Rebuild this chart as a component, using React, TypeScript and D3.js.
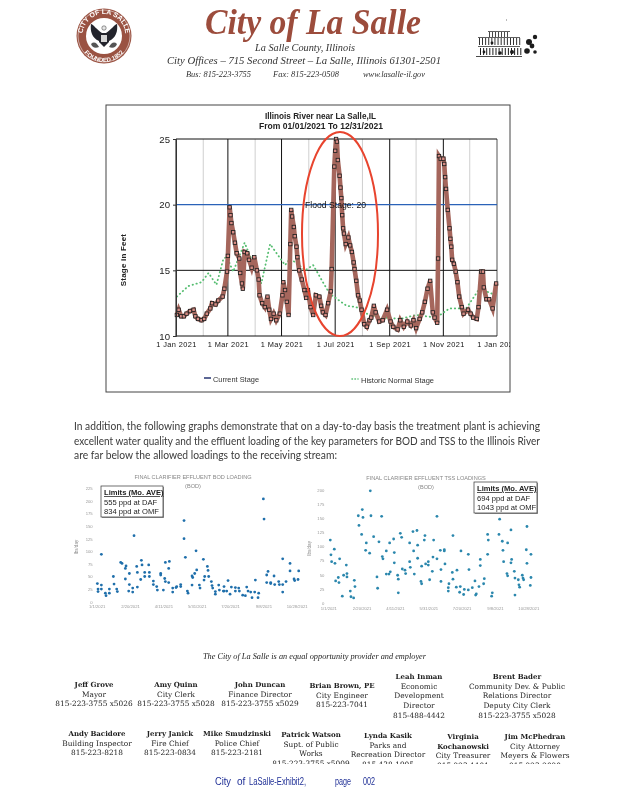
import { useEffect, useRef } from 'react';
import * as d3 from 'd3';

// river stage, day offset from 1 Jan 2021
const stageDays = [1,3,6,9,12,16,20,22,25,29,32,35,39,41,45,48,53,55,58,59,61,62,63,65,67,69,72,73,75,76,78,81,83,86,89,92,94,95,98,101,104,106,108,111,114,118,121,122,124,126,128,130,131,132,134,135,137,138,140,143,146,148,150,153,156,159,163,165,167,170,173,176,177,180,181,182,183,184,186,187,188,189,190,191,193,196,198,200,202,203,205,207,209,211,214,217,220,222,225,227,231,235,240,244,247,252,255,259,263,267,270,273,277,280,283,286,289,292,294,297,298,299,301,304,305,306,307,309,311,312,313,314,316,318,320,322,325,327,332,335,338,342,344,347,349,350,353,356,360,364];
const stageValues = [11.6,12,11.5,11.5,11.7,11.9,12,11.5,11.3,11.2,11.3,11.7,12.1,12.5,12.4,12.7,13,13.6,14.9,16.1,19.8,19.2,18.6,17.9,17.1,16.3,15.9,14.8,14,13.6,16.4,16.3,15.8,15.2,16,15,14.3,13.1,12.5,12.2,13,12,11.3,11.7,11.2,11.7,13.1,14.1,13.5,12.6,11.6,17,19.6,19.1,18.3,17.6,16.8,16,15,14.3,13.5,12.9,13.5,12.2,11.6,13.1,13,12.3,11.8,11.6,12.5,13.4,15.1,22.9,24.1,25,24.8,23.4,22.2,21.3,20.5,19.2,18.2,17.8,17,17.5,16.9,16.4,15.6,15.1,14.2,13.1,12.7,12,10.9,10.7,11.2,11.4,12.3,11.8,11.1,11.2,12,11.1,10.7,10.5,11.2,10.7,11.1,10.8,11.2,10.6,11.3,11.8,12.6,13.6,14.2,11.8,11.4,11,15.9,23.7,23.5,23.5,23.1,22.1,21.2,19.6,18.2,17.4,16.8,15.8,15.5,14.9,14.1,13,12.2,11.7,12,11.7,11.4,11.3,12.2,14.9,14.9,13.7,12.8,12.8,12.1,14];

const normalDays = [1,14,29,37,46,54,58,65,78,88,97,107,124,130,147,156,167,175,194,205,217,236,255,273,296,311,330,345,364];
const normalValues = [13,13.8,14.1,14.8,13.9,15.9,16,14.9,17.1,15.5,14,17,15.4,15.9,15,15.4,14.1,13.2,12.3,12.2,11.7,11.4,11.3,11.6,11.4,12.1,12.1,13.6,13.1];

const stageTicks = [10, 15, 20, 25];
const floodStage = 20;

// effluent loadings, day offset from the first sample
const bodDays = [7,1,2,7,2,7,13,14,19,19,25,26,30,31,36,38,43,44,43,49,49,48,54,54,56,60,61,61,67,66,68,72,72,78,79,79,85,85,90,91,96,96,100,103,102,103,108,108,109,114,114,119,120,126,126,131,131,133,136,137,143,144,143,147,150,149,154,155,160,161,162,166,167,168,172,173,174,178,178,183,184,190,191,191,195,197,200,202,208,208,213,214,219,223,225,227,231,233,237,238,242,243,250,251,255,255,257,261,261,266,267,273,274,279,279,279,284,290,290,296,297,302,303];
const bodValues = [94,36,25,33,20,25,17,12,25,17,50,35,25,20,78,76,45,71,66,34,56,21,27,19,131,70,29,58,82,44,73,58,50,73,58,50,41,34,30,23,56,53,23,78,46,40,38,66,80,27,19,28,30,34,30,161,125,88,21,17,51,48,33,56,63,101,33,27,84,43,50,70,62,50,40,32,27,20,15,33,23,21,30,21,21,42,15,29,28,21,27,21,13,12,29,21,19,8,19,43,8,17,204,164,38,53,60,36,38,51,34,40,34,34,19,85,40,76,61,45,42,44,61];

const tssDays = [3,4,5,9,10,11,15,16,17,21,23,27,28,28,33,34,38,39,40,45,46,50,51,52,57,56,62,63,64,68,73,74,76,80,81,82,87,87,91,92,93,98,99,99,104,105,105,108,110,111,115,116,122,122,123,127,128,129,133,134,134,140,139,140,145,144,146,150,150,152,156,157,158,163,163,169,169,168,174,174,175,180,180,181,186,187,187,192,193,197,198,199,203,204,210,210,211,216,220,221,222,226,228,228,233,234,239,240,239,245,246,256,257,261,262,263,268,269,269,274,274,275,279,280,280,285,286,287,291,292,293,298,298,297,304,303,304];
const tssValues = [111,85,73,95,70,39,45,36,78,12,49,67,52,46,21,11,9,40,29,154,137,121,165,151,106,93,88,198,154,117,46,26,108,153,82,78,92,51,51,106,55,113,89,71,49,18,42,123,116,60,58,52,106,73,63,126,92,51,128,102,79,65,38,34,119,111,69,73,67,41,56,81,111,153,78,38,59,93,94,92,69,27,21,34,54,119,42,28,58,19,29,92,15,24,86,23,59,27,39,14,16,29,66,77,34,43,86,111,121,12,18,121,148,109,93,73,52,48,106,129,71,77,56,14,44,41,32,28,49,44,41,135,70,94,86,31,45];

const bodTicks = [0,25,50,75,100,125,150,175,200,225];
const tssTicks = [0,25,50,75,100,125,150,175,200];
const sampleTickDays = [0,50,100,150,200,250,300];

const SERIF = '"Liberation Serif", serif';
const SANS = '"Liberation Sans", sans-serif';
const SCHOOL = '"DejaVu Serif", serif';

const start = new Date(2021, 0, 1);
const dayToDate = (d: number) => d3.timeDay.offset(start, d);

interface LoadingChart {
  title: string;
  titleX: number;
  titleY: number;
  days: number[];
  values: number[];
  ticks: number[];
  color: string;
  x0: number;
  y0: number;
  yTop: number;
  yMax: number;
  labelX: number;
  dateY: number;
}

const drawLoading = (svg: d3.Selection<SVGGElement, unknown, null, undefined>, c: LoadingChart) => {
  const x = d3.scaleTime().domain([dayToDate(0), dayToDate(300)]).range([c.x0, c.x0 + 200]);
  const y = d3.scaleLinear().domain([0, c.yMax]).range([c.y0, c.yTop]);
  const g = svg.append('g').attr('font-family', SANS);

  g.append('text').attr('x', c.titleX).attr('y', c.titleY).attr('text-anchor', 'middle')
    .attr('font-size', 5.6).attr('fill', '#888').text(c.title);
  g.append('text').attr('x', c.titleX).attr('y', c.titleY + 9).attr('text-anchor', 'middle')
    .attr('font-size', 5.6).attr('fill', '#888').text('(BOD)');

  const yAxis = g.append('g').attr('transform', `translate(${c.x0 - 3},0)`)
    .call(d3.axisLeft(y).tickValues(c.ticks).tickSize(0).tickPadding(1));
  yAxis.select('.domain').remove();
  yAxis.selectAll('text').attr('font-size', 4.2).attr('fill', '#999').attr('font-family', SANS);

  const xAxis = g.append('g').attr('transform', `translate(0,${c.dateY})`)
    .call(d3.axisBottom(x).tickValues(sampleTickDays.map(dayToDate))
      .tickFormat(d => d3.timeFormat('%-m/%-d/%Y')(d as Date)).tickSize(0).tickPadding(0));
  xAxis.select('.domain').remove();
  xAxis.selectAll('text').attr('font-size', 4.2).attr('fill', '#999').attr('font-family', SANS);

  g.append('text').attr('transform', `translate(${c.labelX},${(c.y0 + c.yTop) / 2 + 2}) rotate(-90)`)
    .attr('text-anchor', 'middle').attr('font-size', 4.6).attr('fill', '#888').text('lbs/day');

  g.append('g').selectAll('circle').data(c.days).join('circle')
    .attr('cx', d => x(dayToDate(d)))
    .attr('cy', (_, i) => y(c.values[i]))
    .attr('r', 1.4)
    .attr('fill', c.color);
};

const Seal = () => (
  <g transform="translate(104,36)">
    <circle r={27.5} fill="#9a5242" />
    <circle r={26} fill="none" stroke="#fff" strokeWidth={0.5} />
    <circle r={18} fill="#fff" />
    <defs>
      <path id="sealTop" d="M -20.5 6 A 21.5 21.5 0 1 1 20.5 6" />
      <path id="sealBottom" d="M -24.5 6 A 25 25 0 0 0 24.5 6" />
    </defs>
    <text fontFamily={SANS} fontSize={7} fontWeight="bold" fill="#fff">
      <textPath href="#sealTop" startOffset="50%" textAnchor="middle">CITY OF LA SALLE</textPath>
    </text>
    <text fontFamily={SANS} fontSize={6} fontWeight="bold" fill="#fff">
      <textPath href="#sealBottom" startOffset="50%" textAnchor="middle">FOUNDED 1852</textPath>
    </text>
    <path d="M -2 -3 C -7 -6 -11 -12 -13 -12 C -14 -5 -12 2 -5 5 Z" fill="#23242c" />
    <path d="M 2 -3 C 7 -6 11 -12 13 -12 C 14 -5 12 2 5 5 Z" fill="#23242c" />
    <path d="M -5 -3 H 5 V 6 L 0 11 L -5 6 Z" fill="#23242c" />
    <rect x={-3} y={-1} width={6} height={7} fill="#d6d6d6" />
    <circle cy={-8} r={2.2} fill="#e6e6e6" stroke="#333" strokeWidth={0.5} />
    <path d="M -13 8 C -10 5 -7 7 -5 11 C -9 13 -12 11 -13 8 Z" fill="#555" />
    <path d="M 13 8 C 10 5 7 7 5 11 C 9 13 12 11 13 8 Z" fill="#555" />
  </g>
);

const Building = () => (
  <g fill="#1c1c1c">
    <rect x={506} y={19.5} width={1} height={1} fill="#777" />
    <rect x={478} y={37} width={42} height={0.7} />
    <rect x={478} y={46} width={42} height={0.7} />
    <rect x={476} y={56} width={46} height={0.8} />
    <rect x={488} y={31} width={22} height={0.7} />
    {d3.range(479, 521, 3.1).map(x => (
      <g key={x}>
        <rect x={x} y={38} width={0.9} height={7} />
        <rect x={x + 1} y={48} width={1} height={7} />
      </g>
    ))}
    {d3.range(489, 510, 3).map(x => <rect key={x} x={x} y={32} width={0.8} height={5} />)}
    <circle cx={529} cy={42} r={3} />
    <circle cx={535} cy={37} r={2.2} />
    <circle cx={532} cy={46} r={2.4} />
    <circle cx={527} cy={51} r={2.8} />
    <circle cx={535} cy={52} r={1.8} />
    <circle cx={512} cy={52} r={2} />
    <circle cx={500} cy={53} r={1.8} />
    <circle cx={492} cy={43} r={1.4} />
    <circle cx={484} cy={52} r={1.4} />
  </g>
);

const staffRow1 = [
  { x: 94, y: 687, lines: ['Jeff Grove', 'Mayor', '815-223-3755 x5026'] },
  { x: 176, y: 687, lines: ['Amy Quinn', 'City Clerk', '815-223-3755 x5028'] },
  { x: 260, y: 687, lines: ['John Duncan', 'Finance Director', '815-223-3755 x5029'] },
  { x: 342, y: 688, lines: ['Brian Brown, PE', 'City Engineer', '815-223-7041'] },
  { x: 419, y: 679, lines: ['Leah Inman', 'Economic', 'Development', 'Director', '815-488-4442'] },
  { x: 517, y: 679, lines: ['Brent Bader', 'Community Dev. & Public', 'Relations Director', 'Deputy City Clerk', '815-223-3755 x5028'] },
];
const staffRow2 = [
  { x: 97, y: 736, lines: ['Andy Bacidore', 'Building Inspector', '815-223-8218'] },
  { x: 170, y: 736, lines: ['Jerry Janick', 'Fire Chief', '815-223-0834'] },
  { x: 237, y: 736, lines: ['Mike Smudzinski', 'Police Chief', '815-223-2181'] },
  { x: 311, y: 737, lines: ['Patrick Watson', 'Supt. of Public', 'Works', '815-223-3755 x5009'] },
  { x: 388, y: 738, lines: ['Lynda Kasik', 'Parks and', 'Recreation Director', '815-438-1905'] },
  { x: 463, y: 739, bold: 2, lines: ['Virginia', 'Kochanowski', 'City Treasurer', '815-223-1101'] },
  { x: 535, y: 739, lines: ['Jim McPhedran', 'City Attorney', 'Meyers & Flowers', '815-223-2020'] },
];

const paragraph = [
  { text: 'In addition, the following graphs demonstrate that on a day-to-day basis the treatment plant is achieving', y: 430, len: 466 },
  { text: 'excellent water quality and the effluent loading of the key parameters for BOD and TSS to the Illinois River', y: 445, len: 466 },
  { text: 'are far below the allowed loadings to the receiving stream:', y: 459, len: 263 },
];

const LimitBox = ({ x, y, w, lines }: { x: number; y: number; w: number; lines: string[] }) => (
  <g fontFamily={SANS} fontSize={7.6} fill="#222">
    <rect x={x + 1} y={y + 1} width={w} height={31} fill="#999" />
    <rect x={x} y={y} width={w} height={31} fill="#fff" stroke="#333" strokeWidth={0.7} />
    <text x={x + 3} y={y + 9} fontWeight="bold" textDecoration="underline">{lines[0]}</text>
    <text x={x + 3} y={y + 19}>{lines[1]}</text>
    <text x={x + 3} y={y + 28}>{lines[2]}</text>
  </g>
);

export default function App() {
  const chartRef = useRef<SVGGElement>(null);

  useEffect(() => {
    if (!chartRef.current) return;
    const svg = d3.select(chartRef.current);
    svg.selectAll('*').remove();

    const defs = svg.append('defs');
    defs.append('clipPath').attr('id', 'frameClip').append('rect')
      .attr('x', 106).attr('y', 105).attr('width', 404).attr('height', 287);

    const x = d3.scaleTime().domain([start, new Date(2022, 0, 1)]).range([176, 497]);
    const y = d3.scaleLinear().domain([10, 25]).range([336, 139]);

    const frame = svg.append('g').attr('font-family', SANS);
    frame.append('rect').attr('x', 106).attr('y', 105).attr('width', 404).attr('height', 287)
      .attr('fill', '#fff').attr('stroke', '#444').attr('stroke-width', 1);

    const plot = frame.append('g');
    const minor = d3.timeMonth.range(new Date(2021, 1, 1), new Date(2022, 0, 1), 2);
    const major = d3.timeMonth.range(start, new Date(2022, 0, 2), 2);

    plot.selectAll('line.minor').data(minor).join('line').attr('class', 'minor')
      .attr('x1', d => x(d)).attr('x2', d => x(d)).attr('y1', y(25)).attr('y2', y(10))
      .attr('stroke', '#cfcfcf').attr('stroke-width', 1);
    plot.selectAll('line.major').data(major).join('line').attr('class', 'major')
      .attr('x1', d => x(d)).attr('x2', d => x(d)).attr('y1', y(25)).attr('y2', y(10))
      .attr('stroke', (_, i) => (i === major.length - 1 ? '#555' : '#111')).attr('stroke-width', 1);
    plot.selectAll('line.level').data(stageTicks).join('line').attr('class', 'level')
      .attr('x1', x.range()[0]).attr('x2', x.range()[1])
      .attr('y1', d => y(d)).attr('y2', d => y(d))
      .attr('stroke', d => (d === floodStage ? '#2a62b8' : '#111'))
      .attr('stroke-width', d => (d === floodStage ? 1.2 : 1));

    const yAxis = frame.append('g').attr('transform', 'translate(176,0)')
      .call(d3.axisLeft(y).tickValues(stageTicks).tickSize(3).tickPadding(3).tickFormat(d3.format('d')));
    yAxis.selectAll('text').attr('font-size', 9.6).attr('fill', '#222').attr('font-family', SANS);
    yAxis.selectAll('line').attr('stroke', '#333');
    yAxis.select('.domain').attr('stroke', '#333');

    const xAxis = frame.append('g').attr('clip-path', 'url(#frameClip)').append('g')
      .attr('transform', 'translate(0,336)')
      .call(d3.axisBottom(x).tickValues(major)
        .tickFormat(d => d3.timeFormat('%-d %b %Y')(d as Date)).tickSize(0).tickPadding(6));
    xAxis.select('.domain').remove();
    xAxis.selectAll('text').attr('font-size', 7.4).attr('fill', '#111').attr('font-family', SANS)
      .attr('letter-spacing', 0.4);

    const normalLine = d3.line<number>()
      .x(d => x(dayToDate(d)))
      .y((_, i) => y(normalValues[i]));
    plot.append('path').attr('d', normalLine(normalDays))
      .attr('fill', 'none').attr('stroke', '#55bd70').attr('stroke-width', 1.8)
      .attr('stroke-linecap', 'round').attr('stroke-dasharray', '0.4 3.6');

    const stageLine = d3.line<number>()
      .x(d => x(dayToDate(d)))
      .y((_, i) => y(stageValues[i]));
    plot.append('path').attr('d', stageLine(stageDays))
      .attr('fill', 'none').attr('stroke', '#a5665c').attr('stroke-width', 4.6);
    plot.append('g').selectAll('rect').data(stageDays).join('rect')
      .attr('x', d => x(dayToDate(d)) - 1.7)
      .attr('y', (_, i) => y(stageValues[i]) - 1.7)
      .attr('width', 3.4).attr('height', 3.4)
      .attr('fill', '#d98c84').attr('stroke', '#222').attr('stroke-width', 0.85);

    frame.append('text').attr('x', 305).attr('y', 208).attr('font-size', 9.5).attr('fill', '#111')
      .attr('textLength', 61).attr('lengthAdjust', 'spacingAndGlyphs').text(`Flood Stage: ${floodStage}`);

    frame.append('ellipse').attr('cx', 340).attr('cy', 234).attr('rx', 38).attr('ry', 102)
      .attr('fill', 'none').attr('stroke', '#e8442e').attr('stroke-width', 2);

    frame.append('text').attr('x', 265).attr('y', 119).attr('font-size', 9).attr('font-weight', 'bold')
      .attr('fill', '#222').attr('textLength', 111).attr('lengthAdjust', 'spacingAndGlyphs').text('Illinois River near La Salle,IL');
    frame.append('text').attr('x', 259).attr('y', 128.5).attr('font-size', 9).attr('font-weight', 'bold')
      .attr('fill', '#222').attr('textLength', 124).attr('lengthAdjust', 'spacingAndGlyphs').text('From 01/01/2021 To 12/31/2021');
    frame.append('text').attr('transform', 'translate(126,260) rotate(-90)').attr('text-anchor', 'middle')
      .attr('font-size', 8).attr('font-weight', 'bold').attr('fill', '#222').attr('letter-spacing', 0.2).text('Stage in Feet');

    frame.append('line').attr('x1', 204).attr('x2', 211).attr('y1', 378).attr('y2', 378)
      .attr('stroke', '#33407a').attr('stroke-width', 1.6);
    frame.append('text').attr('x', 213).attr('y', 382).attr('font-size', 7).attr('fill', '#333')
      .attr('textLength', 46).attr('lengthAdjust', 'spacingAndGlyphs').text('Current Stage');
    frame.append('line').attr('x1', 352).attr('x2', 358).attr('y1', 379).attr('y2', 379)
      .attr('stroke', '#55bd70').attr('stroke-width', 1.6).attr('stroke-linecap', 'round').attr('stroke-dasharray', '0.4 2.6');
    frame.append('text').attr('x', 361).attr('y', 383).attr('font-size', 7).attr('fill', '#333')
      .attr('textLength', 73).attr('lengthAdjust', 'spacingAndGlyphs').text('Historic Normal Stage');

    drawLoading(svg, {
      title: 'FINAL CLARIFIER EFFLUENT BOD LOADING', titleX: 193, titleY: 479, days: bodDays, values: bodValues,
      ticks: bodTicks, color: '#1f6fab', x0: 96.7, y0: 601.7, yTop: 488.3, yMax: 225, labelX: 78, dateY: 605,
    });
    drawLoading(svg, {
      title: 'FINAL CLARIFIER EFFLUENT TSS LOADINGS', titleX: 426, titleY: 480, days: tssDays, values: tssValues,
      ticks: tssTicks, color: '#2b87ad', x0: 328.3, y0: 603, yTop: 489.7, yMax: 200, labelX: 311, dateY: 607,
    });
  }, []);

  return (
    <svg width={618} height={800} style={{ position: 'absolute', left: 0, top: 0, filter: 'blur(0.3px)' }}>
      <rect width={618} height={800} fill="#fff" />
      <Seal />
      <Building />
      <text x={205} y={34} fontFamily={SERIF} fontSize={35} fontWeight="bold" fontStyle="italic" fill="#9c4c3c"
        textLength={216} lengthAdjust="spacingAndGlyphs">City of La Salle</text>
      <g fontFamily={SERIF} fontStyle="italic" fill="#333">
        <text x={255} y={51} fontSize={10} textLength={100} lengthAdjust="spacingAndGlyphs">La Salle County, Illinois</text>
        <text x={167} y={64} fontSize={10.5} textLength={274} lengthAdjust="spacingAndGlyphs">City Offices – 715 Second Street – La Salle, Illinois 61301-2501</text>
        <text x={186} y={77} fontSize={9} textLength={65} lengthAdjust="spacingAndGlyphs">Bus: 815-223-3755</text>
        <text x={273} y={77} fontSize={9} textLength={66} lengthAdjust="spacingAndGlyphs">Fax: 815-223-0508</text>
        <text x={363} y={77} fontSize={8} textLength={62} lengthAdjust="spacingAndGlyphs">www.lasalle-il.gov</text>
      </g>

      <g ref={chartRef} />

      <g fontFamily="Lato, sans-serif" fontSize={11.5} fill="#3a3a3a">
        {paragraph.map(p => (
          <text key={p.y} x={74} y={p.y} textLength={p.len} lengthAdjust="spacingAndGlyphs">{p.text}</text>
        ))}
      </g>

      <LimitBox x={101} y={486} w={62} lines={['Limits (Mo. AVE)', '555 ppd at DAF', '834 ppd at OMF']} />
      <LimitBox x={474} y={482} w={63} lines={['Limits (Mo. AVE)', '694 ppd at DAF', '1043 ppd at OMF']} />

      <text x={203} y={659} fontFamily={SERIF} fontStyle="italic" fontSize={8} fill="#222"
        textLength={223} lengthAdjust="spacingAndGlyphs">The City of La Salle is an equal opportunity provider and employer</text>

      <defs>
        <clipPath id="pageCut"><rect x={0} y={660} width={618} height={104} /></clipPath>
      </defs>
      <g fontFamily={SCHOOL} fontSize={7.4} fill="#222" textAnchor="middle" clipPath="url(#pageCut)">
        {[...staffRow1, ...staffRow2].map(s => (
          <text key={s.lines[0]} x={s.x} y={s.y}>
            {s.lines.map((line, i) => (
              <tspan key={line} x={s.x} dy={i === 0 ? 0 : 9.7}
                fontWeight={i < (s.bold ?? 1) ? 'bold' : 'normal'}
                fontSize={i < (s.bold ?? 1) ? 7 : 7.4}>{line}</tspan>
            ))}
          </text>
        ))}
      </g>

      <g fontFamily={SANS} fontSize={10} fill="#1f2f96">
        <text x={215} y={785} textLength={16} lengthAdjust="spacingAndGlyphs">City</text>
        <text x={237} y={785}>of</text>
        <text x={249} y={785} textLength={57} lengthAdjust="spacingAndGlyphs">LaSalle-Exhibit2,</text>
        <text x={335} y={785} textLength={16} lengthAdjust="spacingAndGlyphs">page</text>
        <text x={363} y={785} textLength={12} lengthAdjust="spacingAndGlyphs">002</text>
      </g>
    </svg>
  );
}
